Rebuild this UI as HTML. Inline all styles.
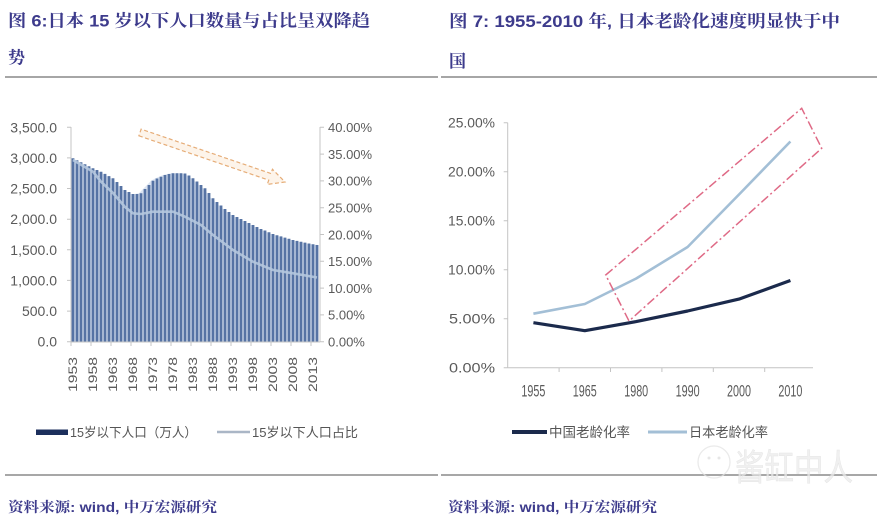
<!DOCTYPE html>
<html><head><meta charset="utf-8"><style>
html,body{margin:0;padding:0;background:#fff;}
svg{display:block;}
.t{font-family:"Liberation Sans","Noto Serif CJK SC","Noto Sans CJK SC",serif;font-weight:bold;fill:#3d3b8c;}
.tk{font-family:"Liberation Sans",sans-serif;fill:#5a5a5a;}
.lg{font-family:"Liberation Sans","Noto Sans CJK SC",sans-serif;fill:#555;}
</style></head><body>
<svg width="882" height="526" viewBox="0 0 882 526" xmlns="http://www.w3.org/2000/svg">
<rect width="882" height="526" fill="#fff"/>
<!-- Titles -->
<text class="t" x="8" y="26.5" font-size="17" textLength="362" lengthAdjust="spacingAndGlyphs">图 6:日本 15 岁以下人口数量与占比呈双降趋</text>
<text class="t" x="8" y="63.5" font-size="17">势</text>
<text class="t" x="449" y="27" font-size="17" textLength="391" lengthAdjust="spacingAndGlyphs">图 7: 1955-2010 年, 日本老龄化速度明显快于中</text>
<text class="t" x="449" y="67" font-size="17">国</text>
<line x1="5" y1="77" x2="438" y2="77" stroke="#888" stroke-width="1.6"/>
<line x1="441" y1="77" x2="877" y2="77" stroke="#888" stroke-width="1.6"/>

<!-- LEFT CHART -->
<polygon fill="#dbe4f1" points="71.5,158.3 75,160.3 79,162.3 83,164.3 87,166.3 91,168.3 95,170 99,171.7 103,173.9 107,176.1 111,178.3 115,182 119,186 123,190 127,192 131,194 135,194 139,193.3 143,189 147,185 151,180.7 155,178.5 159,176.8 163,175 167,174 171,173.3 175,173.2 179,173.3 183,173.5 187,175.5 191,178.3 195,181.5 199,185 203,188.3 207,193 211,198.3 215,202 219,205.5 223,209 227,212 231,215 235,217 239,219 243,221 247,223 251,225 255,227 259,229 263,230.5 267,232.3 271,234 275,235.2 279,236.4 283,237.6 287,238.8 291,240 295,240.9 299,241.7 303,242.6 307,243.5 311,244.3 318.5,245 318.5,342 71.5,342"/>
<path stroke="#5673a4" stroke-width="2.8" fill="none" d="M73 158.3V342M77 160.3V342M81 162.3V342M85 164.3V342M89 166.3V342M93 168.3V342M97 170V342M101 171.7V342M105 173.9V342M109 176.1V342M113 178.3V342M117 182V342M121 186V342M125 190V342M129 192V342M133 194V342M137 194V342M141 193.3V342M145 189V342M149 185V342M153 180.7V342M157 178.5V342M161 176.8V342M165 175V342M169 174V342M173 173.3V342M177 173.2V342M181 173.3V342M185 173.5V342M189 175.5V342M193 178.3V342M197 181.5V342M201 185V342M205 188.3V342M209 193V342M213 198.3V342M217 202V342M221 205.5V342M225 209V342M229 212V342M233 215V342M237 217V342M241 219V342M245 221V342M249 223V342M253 225V342M257 227V342M261 229V342M265 230.5V342M269 232.3V342M273 234V342M277 235.2V342M281 236.4V342M285 237.6V342M289 238.8V342M293 240V342M297 240.9V342M301 241.7V342M305 242.6V342M309 243.5V342M313 244.3V342M317 245V342"/>
<polyline fill="none" stroke="#b4c7de" stroke-width="2.6" stroke-linejoin="round" opacity="0.9" points="73,160 93,171.7 101,181.7 113,193 125,207 133,213.3 141,214 153,211.7 173,211.7 185,216.7 201,225 213,235 233,250 253,261.7 273,270 293,273.3 317,277.5"/>
<!-- axes -->
<g stroke="#c4c4c4" stroke-width="1">
<line x1="71" y1="127" x2="71" y2="342"/>
<line x1="320" y1="127" x2="320" y2="342"/>
<line x1="71" y1="342" x2="320" y2="342"/>
<path d="M67 341.7H71M67 311.1H71M67 280.4H71M67 249.8H71M67 219.2H71M67 188.5H71M67 157.9H71M67 127.3H71"/>
<path d="M320 341.7H324M320 314.9H324M320 288.1H324M320 261.3H324M320 234.5H324M320 207.7H324M320 180.9H324M320 154.1H324M320 127.3H324"/>
<path d="M71 342V346M91 342V346M111 342V346M131 342V346M151 342V346M171 342V346M191 342V346M211 342V346M231 342V346M251 342V346M271 342V346M291 342V346M311 342V346"/>
</g>
<g class="tk" font-size="14" text-anchor="end">
<text x="57" y="346.7">0.0</text>
<text x="57" y="316.1">500.0</text>
<text x="57" y="285.4">1,000.0</text>
<text x="57" y="254.8">1,500.0</text>
<text x="57" y="224.2">2,000.0</text>
<text x="57" y="193.5">2,500.0</text>
<text x="57" y="162.9">3,000.0</text>
<text x="57" y="132.3">3,500.0</text>
</g>
<g class="tk" font-size="13">
<text x="328" y="346.5">0.00%</text>
<text x="328" y="319.7">5.00%</text>
<text x="328" y="292.9">10.00%</text>
<text x="328" y="266.1">15.00%</text>
<text x="328" y="239.3">20.00%</text>
<text x="328" y="212.5">25.00%</text>
<text x="328" y="185.7">30.00%</text>
<text x="328" y="158.9">35.00%</text>
<text x="328" y="132.1">40.00%</text>
</g>
<g class="tk" font-size="11.5" text-anchor="end">
<text transform="translate(77,357) rotate(-90)" textLength="35" lengthAdjust="spacingAndGlyphs">1953</text>
<text transform="translate(97,357) rotate(-90)" textLength="35" lengthAdjust="spacingAndGlyphs">1958</text>
<text transform="translate(117,357) rotate(-90)" textLength="35" lengthAdjust="spacingAndGlyphs">1963</text>
<text transform="translate(137,357) rotate(-90)" textLength="35" lengthAdjust="spacingAndGlyphs">1968</text>
<text transform="translate(157,357) rotate(-90)" textLength="35" lengthAdjust="spacingAndGlyphs">1973</text>
<text transform="translate(177,357) rotate(-90)" textLength="35" lengthAdjust="spacingAndGlyphs">1978</text>
<text transform="translate(197,357) rotate(-90)" textLength="35" lengthAdjust="spacingAndGlyphs">1983</text>
<text transform="translate(217,357) rotate(-90)" textLength="35" lengthAdjust="spacingAndGlyphs">1988</text>
<text transform="translate(237,357) rotate(-90)" textLength="35" lengthAdjust="spacingAndGlyphs">1993</text>
<text transform="translate(257,357) rotate(-90)" textLength="35" lengthAdjust="spacingAndGlyphs">1998</text>
<text transform="translate(277,357) rotate(-90)" textLength="35" lengthAdjust="spacingAndGlyphs">2003</text>
<text transform="translate(297,357) rotate(-90)" textLength="35" lengthAdjust="spacingAndGlyphs">2008</text>
<text transform="translate(317,357) rotate(-90)" textLength="35" lengthAdjust="spacingAndGlyphs">2013</text>
</g>
<!-- orange dashed arrow -->
<polygon points="138.87,135.81 268.73,180.14 267.28,184.4 285,182 272.44,169.26 270.99,173.52 141.13,129.19" fill="#fdf4ea" stroke="#e6ad78" stroke-width="1.2" stroke-dasharray="4,2.5"/>
<!-- left legend -->
<rect x="36" y="429.5" width="32" height="5.5" fill="#1c2f5c"/>
<text class="lg" x="70" y="437" font-size="13" textLength="127" lengthAdjust="spacingAndGlyphs">15岁以下人口（万人）</text>
<line x1="217" y1="432" x2="250" y2="432" stroke="#aab6c6" stroke-width="2.5"/>
<text class="lg" x="252" y="437" font-size="13" textLength="106" lengthAdjust="spacingAndGlyphs">15岁以下人口占比</text>

<!-- RIGHT CHART -->
<g stroke="#c4c4c4" stroke-width="1">
<line x1="507.7" y1="122.7" x2="507.7" y2="367.7"/>
<line x1="507.7" y1="367.7" x2="813" y2="367.7"/>
<path d="M503.7 367.7H507.7M503.7 318.7H507.7M503.7 269.7H507.7M503.7 220.7H507.7M503.7 171.7H507.7M503.7 122.7H507.7"/>
<path d="M559.1 367.7V372M610.5 367.7V372M661.9 367.7V372M713.3 367.7V372M764.7 367.7V372"/>
</g>
<g class="tk" font-size="14" text-anchor="end">
<text x="495" y="372.7" textLength="46" lengthAdjust="spacingAndGlyphs">0.00%</text>
<text x="495" y="323.7" textLength="46" lengthAdjust="spacingAndGlyphs">5.00%</text>
<text x="495" y="274.7" textLength="47" lengthAdjust="spacingAndGlyphs">10.00%</text>
<text x="495" y="225.7" textLength="47" lengthAdjust="spacingAndGlyphs">15.00%</text>
<text x="495" y="176.7" textLength="47" lengthAdjust="spacingAndGlyphs">20.00%</text>
<text x="495" y="127.7" textLength="47" lengthAdjust="spacingAndGlyphs">25.00%</text>
</g>
<g class="tk" font-size="17" text-anchor="middle">
<text x="533.4" y="396.5" textLength="24" lengthAdjust="spacingAndGlyphs">1955</text>
<text x="584.8" y="396.5" textLength="24" lengthAdjust="spacingAndGlyphs">1965</text>
<text x="636.2" y="396.5" textLength="24" lengthAdjust="spacingAndGlyphs">1980</text>
<text x="687.6" y="396.5" textLength="24" lengthAdjust="spacingAndGlyphs">1990</text>
<text x="739" y="396.5" textLength="24" lengthAdjust="spacingAndGlyphs">2000</text>
<text x="790.4" y="396.5" textLength="24" lengthAdjust="spacingAndGlyphs">2010</text>
</g>
<polyline fill="none" stroke="#a3bfd6" stroke-width="2.6" stroke-linejoin="round" points="533.4,313.7 584.8,304 636.2,278.5 687.6,247 739,194.5 790.4,141.5"/>
<polyline fill="none" stroke="#1b2a4c" stroke-width="3.2" stroke-linejoin="round" points="533.4,322.7 584.8,330.7 636.2,321.6 687.6,311 739,299.1 790.4,280.5"/>
<polygon points="605.7,275 801.7,108.3 821.7,148.3 629,321" fill="none" stroke="#df6a86" stroke-width="1.5" stroke-dasharray="9,3,2,3"/>
<!-- right legend -->
<line x1="512" y1="432" x2="547" y2="432" stroke="#1b2a4c" stroke-width="4"/>
<text class="lg" x="549" y="437" font-size="13.5" textLength="81" lengthAdjust="spacingAndGlyphs">中国老龄化率</text>
<line x1="648" y1="432" x2="687" y2="432" stroke="#a3bfd6" stroke-width="3"/>
<text class="lg" x="689" y="437" font-size="13.5" textLength="79" lengthAdjust="spacingAndGlyphs">日本老龄化率</text>

<!-- bottom rules and sources -->
<line x1="5" y1="475" x2="438" y2="475" stroke="#8a8a8a" stroke-width="1.5"/>
<line x1="441" y1="475" x2="877" y2="475" stroke="#8a8a8a" stroke-width="1.5"/>
<!-- watermark -->
<g opacity="0.75">
<circle cx="714" cy="462" r="16" fill="none" stroke="#e4e4e4" stroke-width="1.3"/>
<circle cx="709" cy="458" r="1.5" fill="#dedede"/>
<circle cx="719" cy="458" r="1.5" fill="#dedede"/>
<text x="735" y="480" font-size="36" font-family="'Noto Sans CJK SC',sans-serif" fill="#ececec" stroke="#dcdcdc" stroke-width="0.5" textLength="118" lengthAdjust="spacingAndGlyphs">酱缸中人</text>
</g>
<text class="t" x="8" y="512" font-size="14" textLength="209" lengthAdjust="spacingAndGlyphs">资料来源: wind, 中万宏源研究</text>
<text class="t" x="448" y="512" font-size="14" textLength="209" lengthAdjust="spacingAndGlyphs">资料来源: wind, 中万宏源研究</text>
</svg>
</body></html>
